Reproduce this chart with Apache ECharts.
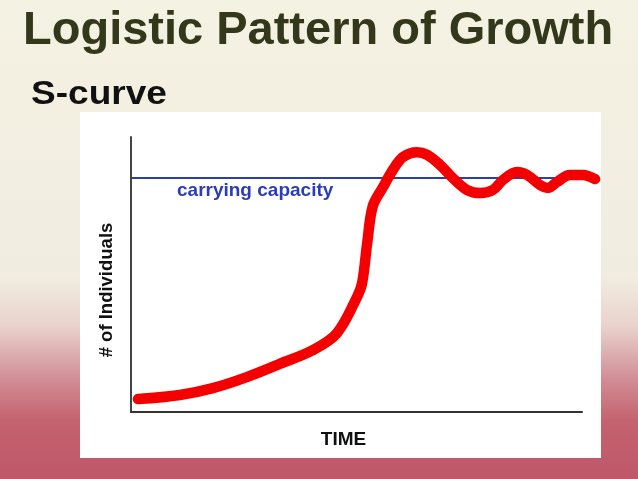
<!DOCTYPE html>
<html>
<head>
<meta charset="utf-8">
<script src="https://cdn.jsdelivr.net/npm/echarts@6/dist/echarts.min.js"></script>
<style>
  html, body { margin: 0; padding: 0; }
  #grafico { width: 638px; height: 479px; }
</style>
</head>
<body>
<div id="grafico"></div>
<script>
// curve (time 0-100, individuals 0-100)
const timeX = [1.5, 10.5, 17.6, 24.9, 32.0, 39.1, 44.3, 48.6, 49.7, 50.8, 52.0, 54.2, 56.3, 58.5, 61.5, 63.7, 66.5, 69.2, 72.3, 75.1, 77.8, 80.0, 83.0, 85.2, 88.0, 89.7, 91.6, 94.4, 97.2, 99.8];
const individuals = [4.7, 6.2, 8.7, 12.7, 17.5, 22.5, 28.7, 41.8, 46.9, 61.5, 74.9, 81.8, 88.0, 92.7, 94.5, 93.5, 89.8, 85.1, 80.7, 79.6, 80.7, 84.4, 87.3, 86.2, 82.5, 81.5, 83.6, 86.2, 86.2, 84.7];
const capacityX = [0, 100];
const capacity = 85.1;

const fonte = "'Liberation Sans', Arial, sans-serif";

let myChart = echarts.init(document.getElementById("grafico"));

let curva = timeX.map((x, i) => [x, individuals[i]]);
let linhaCapacidade = capacityX.map(x => [x, capacity]);

let option = {
  animation: false,
  backgroundColor: {
    type: "linear", x: 0, y: 0, x2: 0, y2: 1,
    colorStops: [
      { offset: 0, color: "#f4f2e3" },
      { offset: 0.58, color: "#f1ece0" },
      { offset: 0.68, color: "#e9d3cc" },
      { offset: 0.79, color: "#d28e96" },
      { offset: 0.88, color: "#c4626f" },
      { offset: 1, color: "#bf5869" },
    ],
  },
  graphic: [
    {
      type: "rect", z: -10,
      shape: { x: 80, y: 112, width: 521, height: 346 },
      style: { fill: "#ffffff" },
    },
    {
      type: "text", x: 23, y: 31,
      style: { text: "Logistic Pattern of Growth", font: "bold 47px " + fonte, fill: "#33381b", verticalAlign: "middle" },
    },
    {
      type: "text", x: 31, y: 95, scaleX: 1.14,
      style: { text: "S-curve", font: "bold 32.5px " + fonte, fill: "#111111", verticalAlign: "middle" },
    },
    {
      type: "text", x: 177, y: 191,
      style: { text: "carrying capacity", font: "bold 19px " + fonte, fill: "#2b3cb8", verticalAlign: "middle" },
    },
  ],
  grid: [
    { left: 131, right: 42, top: 137, bottom: 67 },
    { left: 131, width: 451, top: 137, bottom: 67 },
  ],
  xAxis: [
    { gridIndex: 0, type: "value", min: 0, max: 100, show: false },
    {
      gridIndex: 1, type: "value", min: 0, max: 1,
      name: "TIME", nameLocation: "middle", nameGap: 18,
      nameTextStyle: { fontFamily: fonte, fontWeight: "bold", fontSize: 19, color: "#111", padding: [0, 26, 0, 0] },
      axisLine: { show: true, lineStyle: { color: "#333", width: 2 } },
      axisTick: { show: false }, axisLabel: { show: false }, splitLine: { show: false },
    },
  ],
  yAxis: [
    { gridIndex: 0, type: "value", min: 0, max: 100, show: false },
    {
      gridIndex: 1, type: "value", min: 0, max: 1,
      name: "# of Individuals", nameLocation: "middle", nameGap: 15, nameRotate: 90,
      nameTextStyle: { fontFamily: fonte, fontWeight: "bold", fontSize: 18.5, color: "#111", padding: [0, 31, 0, 0] },
      axisLine: { show: true, lineStyle: { color: "#444", width: 2 } },
      axisTick: { show: false }, axisLabel: { show: false }, splitLine: { show: false },
    },
  ],
  series: [
    {
      name: "carrying capacity",
      type: "line",
      xAxisIndex: 0, yAxisIndex: 0,
      data: linhaCapacidade,
      symbol: "none",
      lineStyle: { color: "#2b3cb4", width: 2 },
      z: 3,
    },
    {
      name: "# of Individuals",
      type: "line",
      xAxisIndex: 0, yAxisIndex: 0,
      data: curva,
      smooth: 0.35,
      symbol: "none",
      lineStyle: { color: "#f50000", width: 10.5, cap: "round", join: "round" },
      z: 4,
    },
  ],
};

option && myChart.setOption(option);
</script>
</body>
</html>
